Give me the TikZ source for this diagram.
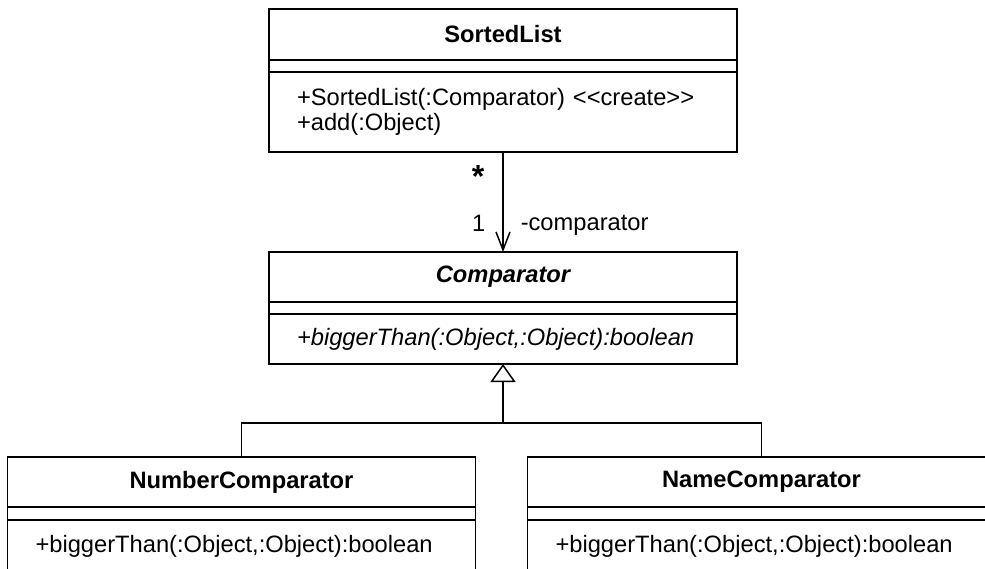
\documentclass[tikz,border=0pt]{standalone}
\usepackage{fontspec}
\setmainfont{Liberation Sans}
\usetikzlibrary{arrows.meta}
\usetikzlibrary{positioning}
\newcommand{\umlfont}{\fontsize{23.7}{25.5}\selectfont}

\begin{document}
\begin{tikzpicture}[x=1pt, y=-1pt, line width=1.5pt,
  classname/.style={draw, minimum width=468pt, minimum height=50pt, inner sep=0pt, outer sep=0pt, font=\umlfont\bfseries},
  classattr/.style={draw, minimum width=468pt, minimum height=12pt, inner sep=0pt, outer sep=0pt, below=0pt of #1},
  classops/.style={draw, minimum width=468pt, text width=412pt, inner xsep=28pt, inner ysep=0pt, outer sep=0pt, align=left, font=\umlfont, below=0pt of #1},
  rolelabel/.style={inner sep=0pt, font=\umlfont}]

  \useasboundingbox (0,0) rectangle (985,569);
  \clip (0,0) rectangle (985,569);

  \node[classname, minimum height=51pt] (sl) at (503,34.5) {SortedList};
  \node[classattr=sl] (slattr) {};
  \node[classops=slattr, minimum height=80pt] (slops) {+SortedList(:Comparator) <\kern0pt<create>\kern0pt>\\+add(:Object)\par\vspace*{8pt}};

  \node[classname, font=\umlfont\bfseries\itshape, below=100pt of slops] (cmp) {Comparator};
  \node[classattr=cmp] (cmpattr) {};
  \node[classops=cmpattr, minimum height=50pt, font=\umlfont\itshape] (cmpops) {+biggerThan(:Object,:Object):boolean};

  \node[classname] (ncmp) at (241.5,482) {NumberComparator};
  \node[classattr=ncmp, minimum height=13pt] (ncmpattr) {};
  \node[classops=ncmpattr, minimum height=52pt] (ncmpops) {+biggerThan(:Object,:Object):boolean};

  \node[classname] (nmcmp) at (761.5,482) {NameComparator};
  \node[classattr=nmcmp, minimum height=13pt] (nmcmpattr) {};
  \node[classops=nmcmpattr, minimum height=52pt] (nmcmpops) {+biggerThan(:Object,:Object):boolean};

  \draw[-{Straight Barb[length=18pt, width=14pt]}] (slops.south)
    -- node[rolelabel, font=\fontsize{32}{32}\selectfont\bfseries, pos=0.13, anchor=north east, xshift=-18pt] {*}
       node[rolelabel, pos=0.8, anchor=base east, xshift=-17pt] {1}
       node[rolelabel, pos=0.79, anchor=base west, xshift=17pt] {-comparator} (cmp.north);

  \coordinate (bus) at (503,423);
  \draw (ncmp.north) |- (bus) -| (nmcmp.north);
  \draw[-{Triangle[open, length=18pt, width=25pt]}] (bus) -- (cmpops.south);

\end{tikzpicture}
\end{document}
